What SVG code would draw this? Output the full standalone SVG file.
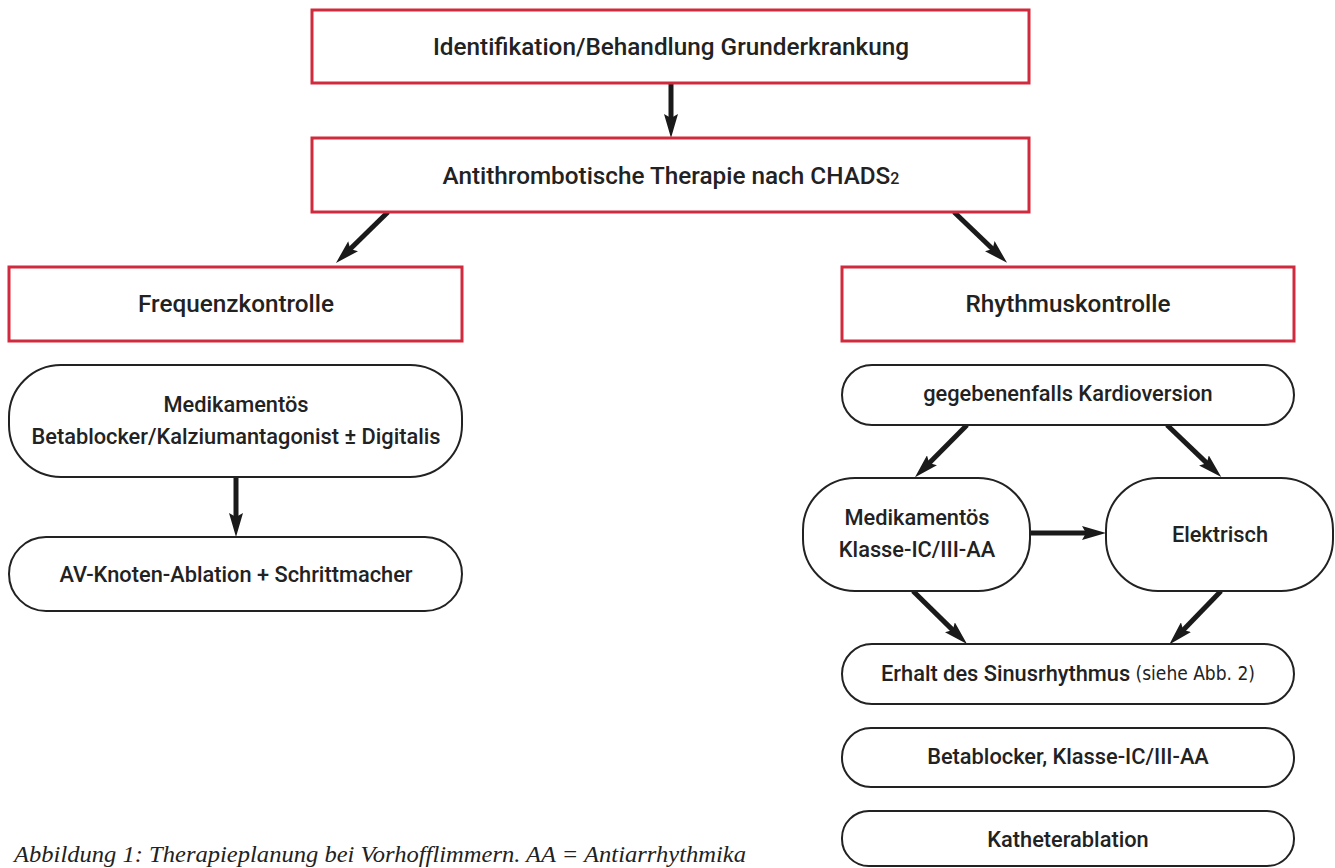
<svg xmlns="http://www.w3.org/2000/svg" width="1335" height="868" viewBox="0 0 1335 868">
<style>
.red{fill:#fff;stroke:#cf2a3d;stroke-width:3}
.pill{fill:#fff;stroke:#222;stroke-width:2}
.t{font-family:Roboto,"Liberation Sans",sans-serif;font-weight:500;font-size:21.8px;fill:#222;text-anchor:middle;dominant-baseline:central}
.h{font-size:24.3px}
.c{stroke:#1a1a1a;stroke-width:5;fill:none;marker-end:url(#ah)}
.cap{font-family:"Liberation Serif",serif;font-style:italic;font-size:23px;fill:#222}
.small{font-family:"Liberation Sans Narrow","DejaVu Sans Condensed","Roboto Condensed",sans-serif;font-weight:400;font-size:19px}
</style>
<defs>
<marker id="ah" viewBox="0 0 24 14" refX="8" refY="7" markerWidth="24" markerHeight="14" markerUnits="userSpaceOnUse" orient="auto">
<path d="M0,0 L24,7 L0,14 L4,7 Z" fill="#1a1a1a"/>
</marker>
</defs>
<rect width="1335" height="868" fill="#fff"/>
<g id="connectors">
<line class="c" x1="671" y1="84" x2="671" y2="122"/>
<line class="c" x1="388" y1="212" x2="347.4" y2="251.8"/>
<line class="c" x1="954" y1="212" x2="995.5" y2="251.7"/>
<line class="c" x1="236" y1="478" x2="236" y2="521"/>
<line class="c" x1="967" y1="425" x2="926.3" y2="465.9"/>
<line class="c" x1="1167" y1="425" x2="1209.7" y2="465.9"/>
<line class="c" x1="1031" y1="533" x2="1090" y2="533"/>
<line class="c" x1="913" y1="591" x2="955.6" y2="632.9"/>
<line class="c" x1="1221" y1="591" x2="1180.4" y2="632.9"/>
</g>
<g id="n1"><rect class="red" x="312" y="10" width="717" height="73"/><text class="t h" x="671" y="46">Identifikation/Behandlung Grunderkrankung</text></g>
<g id="n2"><rect class="red" x="312" y="138" width="717" height="74"/><text class="t h" x="671" y="175">Antithrombotische Therapie nach CHADS<tspan font-size="16" dy="3">2</tspan></text></g>
<g id="n3"><rect class="red" x="9" y="267" width="453" height="74"/><text class="t h" x="236" y="303">Frequenzkontrolle</text></g>
<g id="n4"><rect class="red" x="842" y="267" width="452" height="74"/><text class="t h" x="1068" y="303">Rhythmuskontrolle</text></g>
<g id="n5"><rect class="pill" x="9" y="365" width="453" height="112" rx="52"/><text class="t" x="236" y="404">Medikamentös</text><text class="t" x="236" y="436">Betablocker/Kalziumantagonist ± Digitalis</text></g>
<g id="n6"><rect class="pill" x="9" y="537" width="453" height="74" rx="37"/><text class="t" x="236" y="574">AV-Knoten-Ablation + Schrittmacher</text></g>
<g id="n7"><rect class="pill" x="842" y="365" width="452" height="60" rx="30"/><text class="t" x="1068" y="393">gegebenenfalls Kardioversion</text></g>
<g id="n8"><rect class="pill" x="803" y="478" width="227" height="113" rx="52"/><text class="t" x="917" y="517">Medikamentös</text><text class="t" x="917" y="549">Klasse-IC/III-AA</text></g>
<g id="n9"><rect class="pill" x="1106" y="478" width="227" height="113" rx="52"/><text class="t" x="1220" y="534">Elektrisch</text></g>
<g id="n10"><rect class="pill" x="842" y="644" width="452" height="60" rx="30"/><text class="t" x="1068" y="673">Erhalt des Sinusrhythmus <tspan class="small">(siehe Abb. 2)</tspan></text></g>
<g id="n11"><rect class="pill" x="842" y="728" width="452" height="59" rx="29"/><text class="t" x="1068" y="756">Betablocker, Klasse-IC/III-AA</text></g>
<g id="n12"><rect class="pill" x="842" y="811" width="452" height="55" rx="27"/><text class="t" x="1068" y="839">Katheterablation</text></g>
<text class="cap" x="14" y="862" textLength="732" lengthAdjust="spacingAndGlyphs">Abbildung 1: Therapieplanung bei Vorhofflimmern. AA = Antiarrhythmika</text>
</svg>
